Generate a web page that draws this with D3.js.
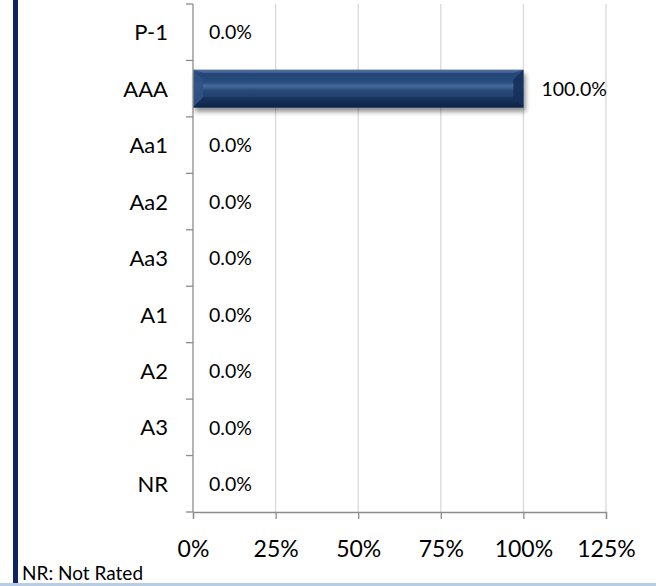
<!DOCTYPE html>
<html>
<head>
<meta charset="utf-8">
<script src="https://cdn.jsdelivr.net/npm/d3@7"></script>
<style>
html,body{margin:0;padding:0;background:#fff;}
svg{display:block;font-family:Lato,"Open Sans",sans-serif;}
</style>
</head>
<body>
<svg id="chart" width="656" height="586"></svg>
<script>
const categories = ["P-1","AAA","Aa1","Aa2","Aa3","A1","A2","A3","NR"];
const values = [0,100,0,0,0,0,0,0,0];
const tickValues = [0,25,50,75,100,125];
const noteText = "NR: Not Rated";

const svg = d3.select("#chart");
const W = 656, H = 586;
const margin = {left:193, right:50, top:4, bottom:74};

const x = d3.scaleLinear().domain([0,125]).range([margin.left, 606]);
const y = d3.scaleBand().domain(categories).range([margin.top, 512]).paddingInner(0.33).paddingOuter(0.165);
const yOuter = d3.scaleBand().domain(categories).range([margin.top, 512]);

// frame decorations
svg.append("rect").attr("x",13).attr("y",0).attr("width",5).attr("height",H).attr("fill","#0f2463");
svg.append("rect").attr("x",0).attr("y",583).attr("width",W).attr("height",3).attr("fill","#b8cce4");

const defs = svg.append("defs");
const g1 = defs.append("linearGradient").attr("id","barGrad").attr("x1",0).attr("y1",0).attr("x2",0).attr("y2",1);
[[0,"#3a5c8c"],[0.12,"#234677"],[0.33,"#2a4d7f"],[0.43,"#46699a"],[0.55,"#27497a"],[0.82,"#1b3a66"],[1,"#0e2447"]]
  .forEach(([o,c])=>g1.append("stop").attr("offset",o).attr("stop-color",c));
const f = defs.append("filter").attr("id","shadow").attr("x","-10%").attr("y","-30%").attr("width","120%").attr("height","180%");
f.append("feGaussianBlur").attr("in","SourceAlpha").attr("stdDeviation",2.5);
f.append("feOffset").attr("dx",2).attr("dy",4).attr("result","ob");
f.append("feComponentTransfer").append("feFuncA").attr("type","linear").attr("slope",0.45);
const m = f.append("feMerge"); m.append("feMergeNode"); m.append("feMergeNode").attr("in","SourceGraphic");

// gridlines
svg.append("g").selectAll("line").data(tickValues.filter(d=>d>0)).join("line")
  .attr("x1",d=>x(d)).attr("x2",d=>x(d)).attr("y1",margin.top).attr("y2",512)
  .attr("stroke","#d9d9d9").attr("stroke-width",1.3);

// bars
const bars = svg.append("g");
categories.forEach((c,i)=>{
  const v = values[i];
  if (v<=0) return;
  const x0 = x(0), x1 = x(v), y0 = y(c), h = y.bandwidth();
  const gb = bars.append("g").attr("filter","url(#shadow)");
  gb.append("rect").attr("x",x0).attr("y",y0).attr("width",x1-x0).attr("height",h).attr("fill","url(#barGrad)");
  const bv = 10;
  gb.append("polygon").attr("points",`${x0},${y0} ${x0+bv},${y0+bv} ${x0+bv},${y0+h-bv} ${x0},${y0+h}`).attr("fill","#2f5284").attr("opacity",0.9);
  gb.append("polygon").attr("points",`${x1},${y0} ${x1-bv},${y0+bv} ${x1-bv},${y0+h-bv} ${x1},${y0+h}`).attr("fill","#14305a").attr("opacity",0.9);
  gb.append("polygon").attr("points",`${x0},${y0} ${x1},${y0} ${x1-bv},${y0+3} ${x0+bv},${y0+3}`).attr("fill","#5a7aa6").attr("opacity",0.6);
  gb.append("polygon").attr("points",`${x0},${y0+h} ${x1},${y0+h} ${x1-bv},${y0+h-bv} ${x0+bv},${y0+h-bv}`).attr("fill","#0f2647").attr("opacity",0.55);
});

// y axis
const yAxisG = svg.append("g");
yAxisG.append("line").attr("x1",x(0)).attr("x2",x(0)).attr("y1",margin.top).attr("y2",512).attr("stroke","#8c8c8c").attr("stroke-width",1.3);
const yTicks = categories.map(c=>yOuter(c)).concat([512]);
yAxisG.selectAll("line.t").data(yTicks).join("line").attr("class","t")
  .attr("x1",x(0)-7).attr("x2",x(0)).attr("y1",d=>d).attr("y2",d=>d).attr("stroke","#8c8c8c").attr("stroke-width",1.3);
yAxisG.selectAll("text").data(categories).join("text")
  .attr("x",168).attr("y",d=>yOuter(d)+yOuter.bandwidth()/2).attr("dy","0.37em")
  .attr("text-anchor","end").attr("font-size",22).attr("fill","#000").text(d=>d);

// x axis
const xAxis = d3.axisBottom(x).tickValues(tickValues).tickSize(7).tickFormat(d=>d+"%");
const xg = svg.append("g").attr("transform","translate(0,512)").call(xAxis);
xg.select(".domain").attr("stroke","#8c8c8c").attr("stroke-width",1.3);
xg.selectAll(".tick line").attr("stroke","#8c8c8c").attr("stroke-width",1.3);
xg.selectAll(".tick text").attr("font-size",23).attr("font-family","Lato,sans-serif").attr("fill","#000").attr("y",37).attr("dy","0.35em");

// data labels
svg.append("g").selectAll("text").data(categories).join("text")
  .attr("x",(d,i)=>x(values[i]) + (values[i]>0?18:16))
  .attr("y",d=>yOuter(d)+yOuter.bandwidth()/2).attr("dy","0.37em")
  .attr("font-size",19.5).attr("fill","#000")
  .text((d,i)=>values[i].toFixed(1)+"%");

// note
svg.append("text").attr("x",22).attr("y",580).attr("font-size",19).attr("fill","#000").text(noteText);
</script>
</body>
</html>
